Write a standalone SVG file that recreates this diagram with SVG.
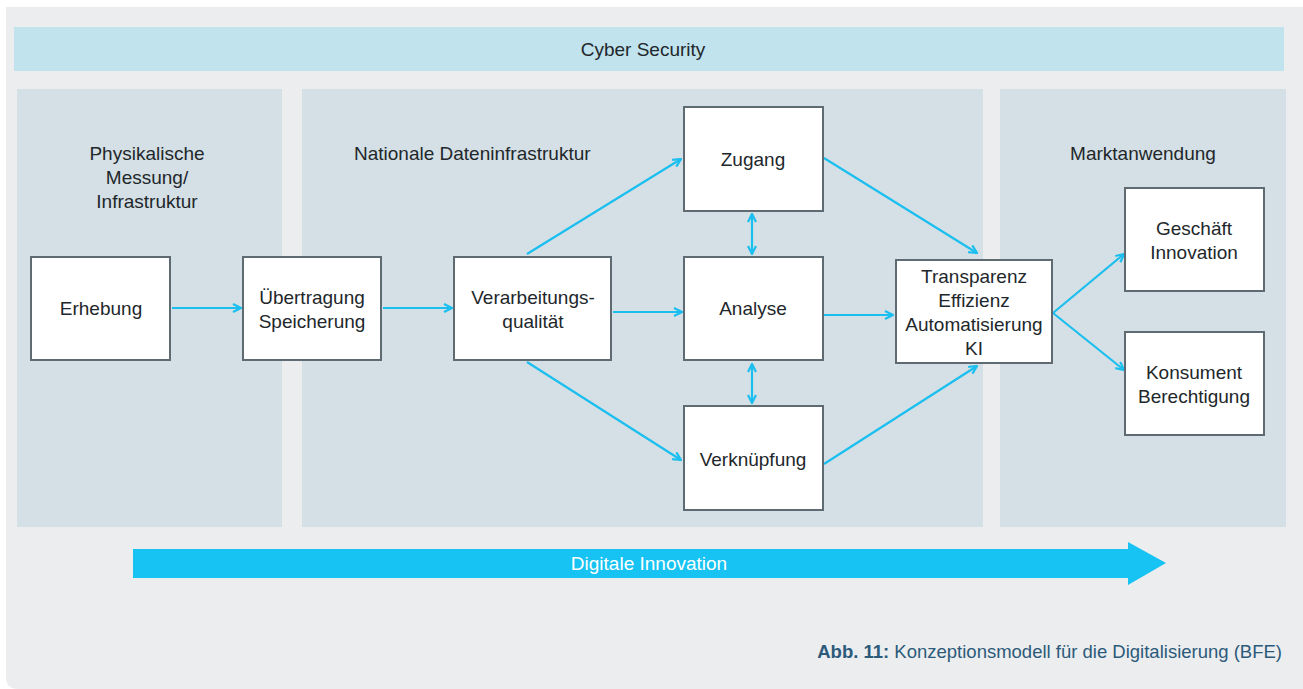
<svg xmlns="http://www.w3.org/2000/svg" width="1303" height="689" viewBox="0 0 1303 689">
<style>
text{font-family:"Liberation Sans",Arial,sans-serif;font-size:19px;fill:#22272b}
.mid{text-anchor:middle;dominant-baseline:central}
.box{fill:#fff;stroke:#5f6b73;stroke-width:2}
.panel{fill:#d4e0e5}
.con{stroke:#1bbfef;stroke-width:2.2;fill:none}
</style>
<defs>
<marker id="ah" viewBox="0 0 10 10" refX="9" refY="5" markerWidth="10" markerHeight="10" markerUnits="userSpaceOnUse" orient="auto-start-reverse">
<path d="M1,1 L9,5 L1,9" fill="none" stroke="#1bbfef" stroke-width="2.2"/>
</marker>
</defs>
<path d="M6,7 H1303 V689 H18 Q6,689 6,677 Z" fill="#ebedef"/>
<g id="cyber">
<rect x="14" y="27" width="1270" height="44" fill="#c0e3ed"/>
<text class="mid" x="643" y="49">Cyber Security</text>
</g>
<g id="panels">
<rect class="panel" x="17" y="89" width="265" height="438"/>
<rect class="panel" x="302" y="89" width="681" height="438"/>
<rect class="panel" x="1000" y="89" width="286" height="438"/>
<text class="mid" x="147" y="153">Physikalische</text>
<text class="mid" x="147" y="177">Messung/</text>
<text class="mid" x="147" y="201">Infrastruktur</text>
<text class="mid" x="354" y="153" style="text-anchor:start">Nationale Dateninfrastruktur</text>
<text class="mid" x="1143" y="153">Marktanwendung</text>
</g>
<g id="connectors">
<line class="con" x1="172" y1="308" x2="241" y2="308" marker-end="url(#ah)"/>
<line class="con" x1="383" y1="308" x2="452" y2="308" marker-end="url(#ah)"/>
<line class="con" x1="613" y1="312" x2="682" y2="312" marker-end="url(#ah)"/>
<line class="con" x1="527" y1="254" x2="681" y2="159" marker-end="url(#ah)"/>
<line class="con" x1="527" y1="362" x2="681" y2="460" marker-end="url(#ah)"/>
<line class="con" x1="752" y1="214" x2="752" y2="254" marker-start="url(#ah)" marker-end="url(#ah)"/>
<line class="con" x1="752" y1="364" x2="752" y2="403" marker-start="url(#ah)" marker-end="url(#ah)"/>
<line class="con" x1="824" y1="158" x2="977" y2="253" marker-end="url(#ah)"/>
<line class="con" x1="824" y1="315" x2="893" y2="315" marker-end="url(#ah)"/>
<line class="con" x1="824" y1="464" x2="977" y2="366" marker-end="url(#ah)"/>
<line class="con" x1="1053" y1="313" x2="1124" y2="254" marker-end="url(#ah)"/>
<line class="con" x1="1053" y1="313" x2="1124" y2="370" marker-end="url(#ah)"/>
</g>
<g id="erhebung"><rect class="box" x="31" y="257" width="139" height="103"/><text class="mid" x="101" y="308">Erhebung</text></g>
<g id="uebertragung"><rect class="box" x="243" y="257" width="138" height="103"/><text class="mid" x="312" y="297">Übertragung</text><text class="mid" x="312" y="321">Speicherung</text></g>
<g id="verarbeitung"><rect class="box" x="454" y="257" width="157" height="103"/><text class="mid" x="533" y="297">Verarbeitungs-</text><text class="mid" x="533" y="321">qualität</text></g>
<g id="zugang"><rect class="box" x="684" y="107" width="139" height="104"/><text class="mid" x="753" y="159">Zugang</text></g>
<g id="analyse"><rect class="box" x="684" y="257" width="139" height="103"/><text class="mid" x="753" y="308">Analyse</text></g>
<g id="verknuepfung"><rect class="box" x="684" y="406" width="139" height="104"/><text class="mid" x="753" y="459">Verknüpfung</text></g>
<g id="transparenz"><rect class="box" x="896" y="260" width="156" height="103"/><text class="mid" x="974" y="276">Transparenz</text><text class="mid" x="974" y="300">Effizienz</text><text class="mid" x="974" y="324">Automatisierung</text><text class="mid" x="974" y="348">KI</text></g>
<g id="geschaeft"><rect class="box" x="1125" y="188" width="139" height="103"/><text class="mid" x="1194" y="228">Geschäft</text><text class="mid" x="1194" y="252">Innovation</text></g>
<g id="konsument"><rect class="box" x="1125" y="332" width="139" height="103"/><text class="mid" x="1194" y="372">Konsument</text><text class="mid" x="1194" y="396">Berechtigung</text></g>
<g id="digitale-innovation">
<path d="M133,549 H1128 V542 L1166,563 L1128,585 V578 H133 Z" fill="#17c3f2"/>
<text class="mid" x="649" y="563" style="fill:#fff">Digitale Innovation</text>
</g>
<g id="caption">
<text x="1282" y="658" style="text-anchor:end;font-size:18.5px;fill:#2c5a7a"><tspan style="font-weight:bold">Abb. 11:</tspan> Konzeptionsmodell für die Digitalisierung (BFE)</text>
</g>
</svg>
